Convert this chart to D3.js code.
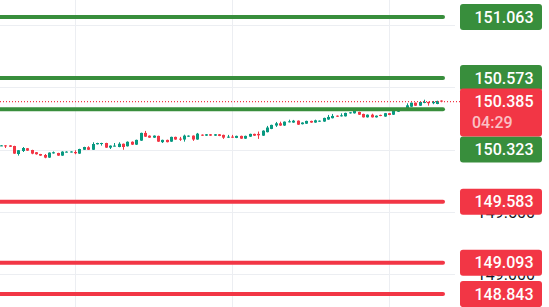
<!DOCTYPE html>
<html lang="en">
<head>
<meta charset="UTF-8">
<title>USDJPY levels</title>
<script src="https://d3js.org/d3.v7.min.js"></script>
<style>
  html, body { margin: 0; padding: 0; background: #fff; }
  svg { display: block; font-family: Roboto, "Open Sans", sans-serif; }
</style>
</head>
<body>
<svg id="chart" width="549" height="307"></svg>
<script>
// candle data (oldest -> newest)
const opens = [
  150.030, 150.034, 150.034, 150.029, 149.965, 149.989, 150.011, 149.997, 149.979, 149.965,
  149.957, 149.936, 149.970, 149.973, 149.952, 149.979, 149.979, 149.981, 149.968, 149.999,
  150.019, 149.999, 150.043, 150.048, 150.053, 150.016, 150.027, 150.021, 150.047, 150.027,
  150.063, 150.040, 150.072, 150.134, 150.112, 150.096, 150.110, 150.060, 150.078, 150.064,
  150.102, 150.088, 150.081, 150.104, 150.112, 150.081, 150.120, 150.112, 150.123, 150.112,
  150.123, 150.118, 150.096, 150.104, 150.094, 150.110, 150.088, 150.104, 150.126, 150.126,
  150.112, 150.140, 150.166, 150.193, 150.211, 150.193, 150.220, 150.217, 150.232, 150.204,
  150.208, 150.230, 150.217, 150.225, 150.225, 150.241, 150.252, 150.272, 150.267, 150.267,
  150.291, 150.291, 150.302, 150.286, 150.259, 150.280, 150.259, 150.278, 150.265, 150.292,
  150.280, 150.304, 150.331, 150.312, 150.344, 150.376, 150.352, 150.374, 150.382, 150.372,
  150.366, 150.393
];
const highs = [
  150.036, 150.036, 150.036, 150.031, 149.997, 150.021, 150.013, 149.999, 149.981, 149.966,
  149.965, 149.978, 149.985, 149.975, 149.987, 149.987, 149.987, 149.995, 150.007, 150.023,
  150.027, 150.059, 150.055, 150.055, 150.055, 150.034, 150.053, 150.059, 150.049, 150.066,
  150.066, 150.080, 150.136, 150.150, 150.114, 150.114, 150.112, 150.080, 150.080, 150.104,
  150.104, 150.102, 150.120, 150.114, 150.114, 150.134, 150.122, 150.125, 150.125, 150.125,
  150.125, 150.120, 150.118, 150.118, 150.112, 150.112, 150.112, 150.128, 150.128, 150.145,
  150.155, 150.190, 150.200, 150.222, 150.224, 150.226, 150.240, 150.238, 150.234, 150.219,
  150.232, 150.232, 150.240, 150.234, 150.256, 150.278, 150.286, 150.274, 150.291, 150.296,
  150.301, 150.314, 150.304, 150.288, 150.282, 150.288, 150.274, 150.280, 150.294, 150.294,
  150.320, 150.333, 150.333, 150.371, 150.378, 150.378, 150.384, 150.400, 150.384, 150.390,
  150.392, 150.395
];
const lows = [
  150.028, 150.013, 150.021, 149.966, 149.952, 149.981, 149.990, 149.963, 149.960, 149.950,
  149.931, 149.934, 149.968, 149.950, 149.950, 149.977, 149.977, 149.963, 149.966, 149.997,
  149.997, 149.997, 150.041, 150.032, 150.014, 150.005, 150.025, 150.019, 149.999, 150.025,
  150.037, 150.037, 150.070, 150.102, 150.094, 150.094, 150.062, 150.053, 150.058, 150.062,
  150.079, 150.070, 150.064, 150.102, 150.070, 150.079, 150.110, 150.110, 150.110, 150.110,
  150.108, 150.086, 150.094, 150.094, 150.092, 150.086, 150.086, 150.102, 150.110, 150.086,
  150.110, 150.138, 150.164, 150.182, 150.190, 150.190, 150.218, 150.215, 150.198, 150.202,
  150.206, 150.215, 150.215, 150.223, 150.223, 150.239, 150.250, 150.262, 150.265, 150.265,
  150.289, 150.289, 150.278, 150.257, 150.257, 150.257, 150.257, 150.268, 150.263, 150.276,
  150.278, 150.302, 150.310, 150.310, 150.342, 150.350, 150.350, 150.372, 150.352, 150.364,
  150.364, 150.383
];
const closes = [
  150.034, 150.026, 150.023, 149.968, 149.995, 150.013, 149.992, 149.968, 149.963, 149.952,
  149.936, 149.976, 149.979, 149.952, 149.984, 149.984, 149.985, 149.971, 150.005, 150.021,
  149.999, 150.045, 150.053, 150.053, 150.016, 150.032, 150.032, 150.047, 150.021, 150.063,
  150.040, 150.078, 150.134, 150.104, 150.096, 150.112, 150.064, 150.078, 150.060, 150.102,
  150.081, 150.081, 150.112, 150.112, 150.081, 150.128, 150.112, 150.123, 150.112, 150.123,
  150.110, 150.096, 150.104, 150.096, 150.110, 150.088, 150.110, 150.126, 150.112, 150.115,
  150.152, 150.177, 150.198, 150.211, 150.193, 150.224, 150.227, 150.232, 150.200, 150.217,
  150.230, 150.217, 150.235, 150.232, 150.254, 150.262, 150.270, 150.264, 150.275, 150.294,
  150.299, 150.312, 150.280, 150.259, 150.280, 150.259, 150.272, 150.270, 150.292, 150.278,
  150.318, 150.331, 150.312, 150.355, 150.376, 150.352, 150.382, 150.382, 150.372, 150.382,
  150.390, 150.385
];

// horizontal levels
const greenLevels = [151.063, 150.573, 150.323];
const redLevels = [149.583, 149.093, 148.843];
const lastPrice = 150.385;
const countdown = "04:29";

// price axis ticks and time grid (candle index)
const priceTicks = [151.0, 150.5, 150.0, 149.5, 149.0];
const timeGrid = [17, 53, 89];

const GREEN = "#388e3c", RED = "#f23645", UP = "#089981", DOWN = "#f23645";

const svg = d3.select("#chart");
const W = 549, H = 307;
const plotRight = 455, levelEnd = 443;

const x = d3.scaleLinear().domain([0, opens.length - 1]).range([1, 441.4]);
const y = d3.scaleLinear().domain([148.739, 151.199]).range([H, 0]);

// grid
svg.append("g").selectAll("line").data(priceTicks).join("line")
  .attr("x1", 0).attr("x2", plotRight)
  .attr("y1", d => Math.round(y(d)) + 0.5).attr("y2", d => Math.round(y(d)) + 0.5)
  .attr("stroke", "#eceef2");
svg.append("g").selectAll("line").data(timeGrid).join("line")
  .attr("x1", d => Math.round(x(d)) + 0.5).attr("x2", d => Math.round(x(d)) + 0.5)
  .attr("y1", 0).attr("y2", H)
  .attr("stroke", "#eceef2");

// candles
const candles = d3.range(opens.length).map(i => ({
  i, o: opens[i], h: highs[i], l: lows[i], c: closes[i]
}));
const cg = svg.append("g").selectAll("g").data(candles).join("g")
  .attr("fill", d => d.c >= d.o ? UP : DOWN)
  .attr("stroke", d => d.c >= d.o ? UP : DOWN);
cg.append("line")
  .attr("x1", d => Math.round(x(d.i)) + 0.5).attr("x2", d => Math.round(x(d.i)) + 0.5)
  .attr("y1", d => y(d.h)).attr("y2", d => y(d.l))
  .attr("stroke-width", 1);
cg.append("rect")
  .attr("x", d => Math.round(x(d.i)) - 1)
  .attr("width", 3)
  .attr("y", d => y(Math.max(d.o, d.c)))
  .attr("height", d => Math.max(1, Math.abs(y(d.o) - y(d.c))))
  .attr("stroke", "none");

// last price dotted line
svg.append("line")
  .attr("x1", 0).attr("x2", 460)
  .attr("y1", y(lastPrice)).attr("y2", y(lastPrice))
  .attr("stroke", RED).attr("stroke-width", 1.2)
  .attr("stroke-dasharray", "1,2");

// level lines
const levels = greenLevels.map(p => ({ p, col: GREEN }))
  .concat(redLevels.map(p => ({ p, col: RED })));
svg.append("g").selectAll("line").data(levels).join("line")
  .attr("x1", 0).attr("x2", levelEnd)
  .attr("y1", d => y(d.p)).attr("y2", d => y(d.p))
  .attr("stroke", d => d.col).attr("stroke-width", 4)
  .attr("stroke-linecap", "round");

// price axis labels (mostly hidden under level labels)
svg.append("g").selectAll("text").data(priceTicks).join("text")
  .attr("x", 535).attr("y", d => y(d)).attr("dy", "0.35em")
  .attr("text-anchor", "end")
  .attr("font-size", 16).attr("fill", "#131722")
  .text(d => d3.format(".3f")(d));

// level labels
const boxX = 460, boxW = 82, boxH = 26;
const lastY = y(lastPrice);
const lastTop = lastY - 13, lastBottom = lastTop + 48;
const labelCenter = d => {
  const cy = y(d.p);
  if (cy > lastTop - boxH / 2 && cy < lastBottom + boxH / 2 && d.p < lastPrice) return lastBottom + boxH / 2;
  return cy;
};
const lg = svg.append("g").selectAll("g").data(levels).join("g")
  .attr("transform", d => `translate(${boxX},${labelCenter(d)})`);
lg.append("rect")
  .attr("y", -boxH / 2).attr("width", boxW).attr("height", boxH)
  .attr("rx", 3).attr("fill", d => d.col);
lg.append("text")
  .attr("x", boxW / 2 + 3).attr("dy", "0.35em")
  .attr("text-anchor", "middle")
  .attr("font-size", 16).attr("font-weight", 500).attr("fill", "#fff")
  .text(d => d3.format(".3f")(d.p));

// last price label with countdown
const lp = svg.append("g").attr("transform", `translate(${boxX},${lastTop})`);
lp.append("rect").attr("width", boxW).attr("height", 48).attr("rx", 3).attr("fill", RED);
lp.append("text")
  .attr("x", boxW / 2 + 3).attr("y", 13).attr("dy", "0.35em")
  .attr("text-anchor", "middle")
  .attr("font-size", 16).attr("font-weight", 500).attr("fill", "#fff")
  .text(d3.format(".3f")(lastPrice));
lp.append("text")
  .attr("x", 12).attr("y", 34).attr("dy", "0.35em")
  .attr("font-size", 16).attr("font-weight", 500).attr("fill", "#fff").attr("fill-opacity", 0.7)
  .text(countdown);
</script>
</body>
</html>
